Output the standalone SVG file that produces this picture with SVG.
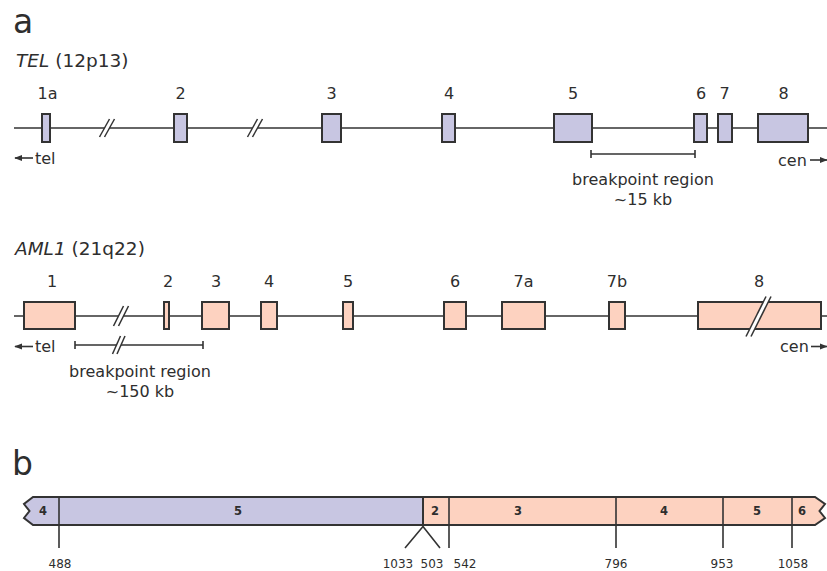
<svg xmlns="http://www.w3.org/2000/svg" width="827" height="571" viewBox="0 0 827 571">
<style>
text{font-family:"DejaVu Sans","Liberation Sans",sans-serif;fill:#2e2e2e}
.big{font-size:33px}
.title{font-size:18.5px}
.lab{font-size:16px;text-anchor:middle}
.side{font-size:16px}
.num{font-size:12px;text-anchor:middle}
.bl{font-size:11.5px;font-weight:bold;text-anchor:middle}
.line{stroke:#333;stroke-width:1.6;fill:none}
.tel{fill:#c8c6e2;stroke:#333;stroke-width:2}
.aml{fill:#fdd2c0;stroke:#333;stroke-width:2}
.brk{fill:#fff;stroke:none}
.sl{stroke:#333;stroke-width:1.5}
</style>
<defs>
<marker id="ah" viewBox="0 0 10 10" refX="9" refY="5" markerWidth="8" markerHeight="8" orient="auto-start-reverse" markerUnits="userSpaceOnUse">
<path d="M0,1 L10,5 L0,9 z" fill="#333"/>
</marker>
</defs>

<text class="big" x="13" y="33">a</text>
<text class="title" x="16" y="66.5"><tspan font-style="italic">TEL</tspan> (12p13)</text>
<text class="title" x="15" y="254.5"><tspan font-style="italic">AML1</tspan> (21q22)</text>
<text class="big" x="12" y="475">b</text>

<g id="connectors">
<line class="line" x1="14" y1="128" x2="827" y2="128"/>
<line class="line" x1="14" y1="316" x2="827" y2="316"/>
<path class="line" d="M591,154 H695 M591,150 V158 M695,150 V158"/>
<path class="line" d="M75,345 H203 M75,341 V349 M203,341 V349"/>
<line class="line" x1="33" y1="158" x2="15" y2="158" marker-end="url(#ah)"/>
<line class="line" x1="810" y1="160" x2="827" y2="160" marker-end="url(#ah)"/>
<line class="line" x1="33" y1="346.5" x2="15" y2="346.5" marker-end="url(#ah)"/>
<line class="line" x1="811" y1="346.5" x2="827" y2="346.5" marker-end="url(#ah)"/>
</g>

<g id="tel-gene">
<g id="tel-1a"><rect class="tel" x="42" y="114" width="8" height="28"/><text class="lab" x="47.5" y="99">1a</text></g>
<g id="tel-2"><rect class="tel" x="174" y="114" width="13" height="28"/><text class="lab" x="180.5" y="99">2</text></g>
<g id="tel-3"><rect class="tel" x="322" y="114" width="19" height="28"/><text class="lab" x="331.5" y="99">3</text></g>
<g id="tel-4"><rect class="tel" x="442" y="114" width="13" height="28"/><text class="lab" x="449" y="99">4</text></g>
<g id="tel-5"><rect class="tel" x="554" y="114" width="38" height="28"/><text class="lab" x="573" y="99">5</text></g>
<g id="tel-6"><rect class="tel" x="694" y="114" width="13" height="28"/><text class="lab" x="701" y="99">6</text></g>
<g id="tel-7"><rect class="tel" x="718" y="114" width="14" height="28"/><text class="lab" x="724.5" y="99">7</text></g>
<g id="tel-8"><rect class="tel" x="758" y="114" width="50" height="28"/><text class="lab" x="783.5" y="99">8</text></g>
<g id="tel-break1"><polygon class="brk" points="99.5,137 109.5,119 114.5,119 104.5,137"/><line class="sl" x1="99.5" y1="137" x2="109.5" y2="119"/><line class="sl" x1="104.5" y1="137" x2="114.5" y2="119"/></g>
<g id="tel-break2"><polygon class="brk" points="247.5,137 257.5,119 262.5,119 252.5,137"/><line class="sl" x1="247.5" y1="137" x2="257.5" y2="119"/><line class="sl" x1="252.5" y1="137" x2="262.5" y2="119"/></g>
<text class="side" x="35" y="163.5">tel</text>
<text class="side" x="778" y="165.5">cen</text>
<text class="lab" x="643" y="185">breakpoint region</text>
<text class="lab" x="643" y="205">~15 kb</text>
</g>

<g id="aml1-gene">
<g id="aml-1"><rect class="aml" x="24" y="302" width="51" height="27"/><text class="lab" x="52" y="287">1</text></g>
<g id="aml-2"><rect class="aml" x="164" y="302" width="5" height="27"/><text class="lab" x="168" y="287">2</text></g>
<g id="aml-3"><rect class="aml" x="202" y="302" width="27" height="27"/><text class="lab" x="216" y="287">3</text></g>
<g id="aml-4"><rect class="aml" x="261" y="302" width="16" height="27"/><text class="lab" x="269" y="287">4</text></g>
<g id="aml-5"><rect class="aml" x="343" y="302" width="10" height="27"/><text class="lab" x="348" y="287">5</text></g>
<g id="aml-6"><rect class="aml" x="444" y="302" width="22" height="27"/><text class="lab" x="455" y="287">6</text></g>
<g id="aml-7a"><rect class="aml" x="502" y="302" width="43" height="27"/><text class="lab" x="523.5" y="287">7a</text></g>
<g id="aml-7b"><rect class="aml" x="609" y="302" width="16" height="27"/><text class="lab" x="617" y="287">7b</text></g>
<g id="aml-8"><rect class="aml" x="698" y="302" width="123" height="27"/><text class="lab" x="759" y="287">8</text>
<polygon class="brk" points="746,336.5 766,296.5 771,296.5 751,336.5"/><line class="sl" x1="746" y1="336.5" x2="766" y2="296.5"/><line class="sl" x1="751" y1="336.5" x2="771" y2="296.5"/></g>
<g id="aml-break1"><polygon class="brk" points="113.5,326 123.5,306 128.5,306 118.5,326"/><line class="sl" x1="113.5" y1="326" x2="123.5" y2="306"/><line class="sl" x1="118.5" y1="326" x2="128.5" y2="306"/></g>
<g id="aml-break2"><polygon class="brk" points="112.5,354 120.5,336 125,336 117,354"/><line class="sl" x1="112.5" y1="354" x2="120.5" y2="336"/><line class="sl" x1="117" y1="354" x2="125" y2="336"/></g>
<text class="side" x="35" y="352">tel</text>
<text class="side" x="780" y="352">cen</text>
<text class="lab" x="140" y="377">breakpoint region</text>
<text class="lab" x="140" y="397">~150 kb</text>
</g>

<g id="fusion">
<polygon class="tel" points="33,497 423,497 423,525 33,525 24,518 29.5,511 24,504"/>
<polygon class="aml" points="423,497 815,497 825,504 819.5,511 825,518 815,525 423,525"/>
<path class="line" stroke-width="2" d="M59,497 V548 M449,497 V548 M616,497 V548 M723,497 V548 M792,497 V548 M423,497 V526.5 L405,548 M423,526.5 L440,548"/>
<text class="bl" x="43" y="515">4</text>
<text class="bl" x="238" y="515">5</text>
<text class="bl" x="435" y="515">2</text>
<text class="bl" x="518" y="515">3</text>
<text class="bl" x="664" y="515">4</text>
<text class="bl" x="757" y="515">5</text>
<text class="bl" x="802" y="515">6</text>
<text class="num" x="60" y="568">488</text>
<text class="num" x="398" y="568">1033</text>
<text class="num" x="432" y="568">503</text>
<text class="num" x="465" y="568">542</text>
<text class="num" x="616" y="568">796</text>
<text class="num" x="722" y="568">953</text>
<text class="num" x="793" y="568">1058</text>
</g>
</svg>
